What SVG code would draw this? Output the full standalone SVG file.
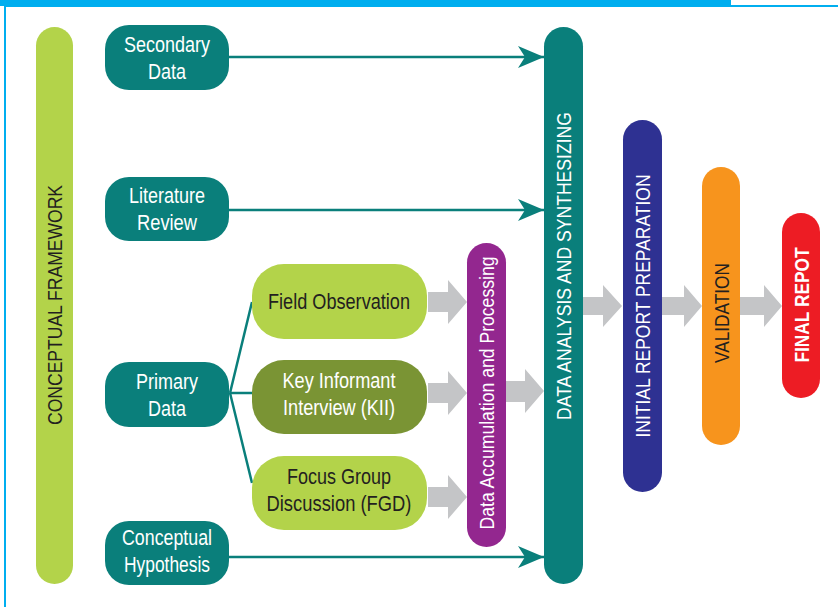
<svg xmlns="http://www.w3.org/2000/svg" width="838" height="607" viewBox="0 0 838 607">
<defs>
<style>
.t{font-family:"Liberation Sans Narrow","Liberation Sans",Arial,sans-serif;font-size:21.5px;text-anchor:middle}
.r{font-size:21px}
.w{fill:#ffffff}
.d{fill:#231F20}
.teal{fill:#0A7F7B}
.lg{fill:#B3D34A}
.ol{fill:#7A9434}
.blk{fill:#C4C5C7}
.con{stroke:#0A7F7B;stroke-width:2.5;fill:none}
</style>
<marker id="ah" markerUnits="userSpaceOnUse" markerWidth="28" markerHeight="24" refX="26" refY="12" orient="auto">
<path d="M0,1 L26,12 L0,23 L7,12 z" fill="#0A7F7B"/>
</marker>
</defs>
<rect width="838" height="607" fill="#ffffff"/>
<g id="frame">
<rect x="0" y="0" width="731" height="6" fill="#00AEEF"/>
<line x1="4" y1="6" x2="838" y2="6" stroke="#00AEEF" stroke-width="2"/>
<line x1="5" y1="6" x2="5" y2="607" stroke="#00AEEF" stroke-width="2"/>
</g>
<g id="connectors">
<line class="con" x1="229" y1="57" x2="544" y2="57" marker-end="url(#ah)"/>
<line class="con" x1="229" y1="210" x2="544" y2="210" marker-end="url(#ah)"/>
<line class="con" x1="229" y1="557" x2="544" y2="557" marker-end="url(#ah)"/>
<path class="con" d="M229,393 L252,393 M230,393 L252,302 M230,393 L252,483"/>
<path class="blk" d="M428,292 L448,292 L448,280 L467,302 L448,324 L448,312 L428,312 z"/>
<path class="blk" d="M428,383 L448,383 L448,371 L467,393 L448,415 L448,403 L428,403 z"/>
<path class="blk" d="M428,487 L448,487 L448,475 L467,497 L448,519 L448,507 L428,507 z"/>
<path class="blk" d="M506,381 L525,381 L525,369 L544,391 L525,413 L525,402 L506,402 z"/>
<path class="blk" d="M583,297 L603,297 L603,285 L622,306 L603,327 L603,315 L583,315 z"/>
<path class="blk" d="M662,297 L684,297 L684,285 L702,306 L684,327 L684,315 L662,315 z"/>
<path class="blk" d="M740,297 L764,297 L764,285 L782,306 L764,327 L764,315 L740,315 z"/>
</g>
<g id="conceptual-framework">
<rect x="36" y="27" width="37" height="557" rx="18.5" class="lg"/>
<text class="t r d" transform="translate(62,305) rotate(-90)" x="0" y="0" textLength="240" lengthAdjust="spacingAndGlyphs">CONCEPTUAL FRAMEWORK</text>
</g>
<g id="secondary-data">
<rect x="105" y="25" width="124" height="65" rx="24" class="teal"/>
<text class="t w" x="167" y="52" textLength="86" lengthAdjust="spacingAndGlyphs">Secondary</text>
<text class="t w" x="167" y="79" textLength="38" lengthAdjust="spacingAndGlyphs">Data</text>
</g>
<g id="literature-review">
<rect x="105" y="177" width="124" height="64" rx="24" class="teal"/>
<text class="t w" x="167" y="203" textLength="76" lengthAdjust="spacingAndGlyphs">Literature</text>
<text class="t w" x="167" y="230" textLength="60" lengthAdjust="spacingAndGlyphs">Review</text>
</g>
<g id="primary-data">
<rect x="105" y="362" width="124" height="65" rx="24" class="teal"/>
<text class="t w" x="167" y="389" textLength="62" lengthAdjust="spacingAndGlyphs">Primary</text>
<text class="t w" x="167" y="416" textLength="38" lengthAdjust="spacingAndGlyphs">Data</text>
</g>
<g id="conceptual-hypothesis">
<rect x="105" y="521" width="124" height="64" rx="24" class="teal"/>
<text class="t w" x="167" y="545" textLength="90" lengthAdjust="spacingAndGlyphs">Conceptual</text>
<text class="t w" x="167" y="572" textLength="86" lengthAdjust="spacingAndGlyphs">Hypothesis</text>
</g>
<g id="field-observation">
<rect x="252" y="264" width="175" height="75" rx="32" class="lg"/>
<text class="t d" x="339" y="309" textLength="142" lengthAdjust="spacingAndGlyphs">Field Observation</text>
</g>
<g id="key-informant-interview">
<rect x="252" y="360" width="175" height="74" rx="32" class="ol"/>
<text class="t w" x="339" y="388" textLength="113" lengthAdjust="spacingAndGlyphs">Key Informant</text>
<text class="t w" x="339" y="415" textLength="112" lengthAdjust="spacingAndGlyphs">Interview (KII)</text>
</g>
<g id="focus-group-discussion">
<rect x="252" y="456" width="175" height="74" rx="32" class="lg"/>
<text class="t d" x="339" y="484" textLength="104" lengthAdjust="spacingAndGlyphs">Focus Group</text>
<text class="t d" x="339" y="511" textLength="145" lengthAdjust="spacingAndGlyphs">Discussion (FGD)</text>
</g>
<g id="data-accumulation">
<rect x="467" y="243" width="39" height="304" rx="19.5" fill="#93278F"/>
<text class="t r w" transform="translate(494,393) rotate(-90)" x="0" y="0" textLength="273" lengthAdjust="spacingAndGlyphs">Data Accumulation and Processing</text>
</g>
<g id="data-analysis">
<rect x="544" y="27" width="39" height="557" rx="19.5" class="teal"/>
<text class="t r w" transform="translate(571,266) rotate(-90)" x="0" y="0" textLength="308" lengthAdjust="spacingAndGlyphs">DATA ANALYSIS AND SYNTHESIZING</text>
</g>
<g id="initial-report">
<rect x="623" y="120" width="39" height="372" rx="19.5" fill="#2E3192"/>
<text class="t r w" transform="translate(650,306) rotate(-90)" x="0" y="0" textLength="263" lengthAdjust="spacingAndGlyphs">INITIAL REPORT PREPARATION</text>
</g>
<g id="validation">
<rect x="702" y="167" width="38" height="278" rx="19" fill="#F7941D"/>
<text class="t r d" transform="translate(729,313) rotate(-90)" x="0" y="0" textLength="100" lengthAdjust="spacingAndGlyphs">VALIDATION</text>
</g>
<g id="final-report">
<rect x="782" y="213" width="38" height="185" rx="19" fill="#ED1C24"/>
<text class="t r w" transform="translate(809,305) rotate(-90)" x="0" y="0" font-weight="bold" textLength="115" lengthAdjust="spacingAndGlyphs">FINAL REPOT</text>
</g>
</svg>
